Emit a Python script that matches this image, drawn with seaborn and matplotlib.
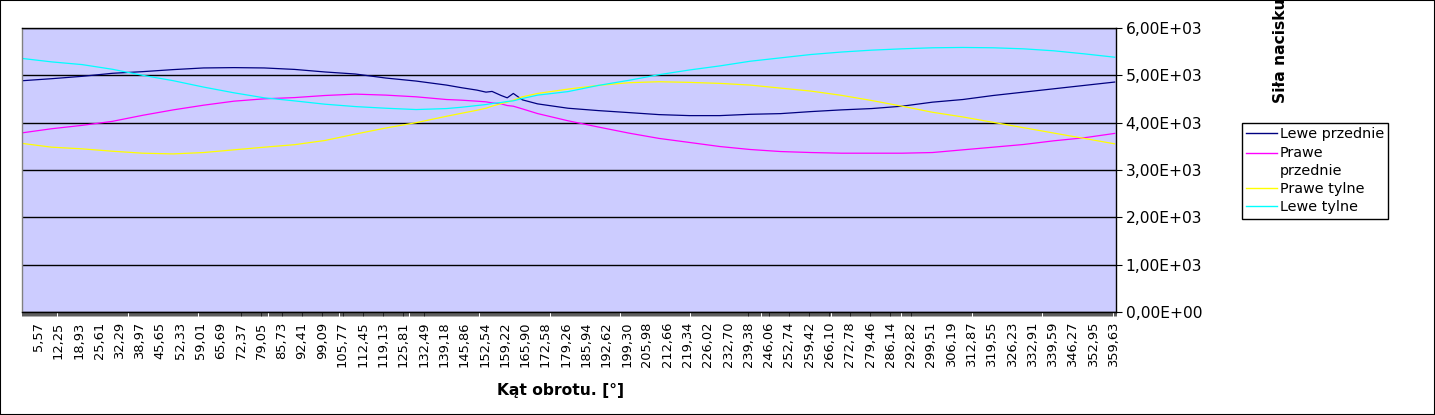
import numpy as np
import pandas as pd
import matplotlib
matplotlib.use("Agg")
import matplotlib.pyplot as plt
import seaborn as sns
from matplotlib.patches import Rectangle
from matplotlib.lines import Line2D
from matplotlib.ticker import FuncFormatter
from matplotlib.legend_handler import HandlerLine2D

# ---------------- data ----------------
angles = [0.5, 10, 20, 30, 40, 50, 60, 70, 80, 90, 100, 110, 120, 130, 140,
          145, 150, 153, 155, 158, 160, 162, 165, 170, 180, 190, 200, 210,
          220, 230, 240, 250, 260, 270, 280, 290, 300, 310, 320, 330, 340,
          350, 360]

lewe_przednie = [4887, 4929, 4979, 5043, 5078, 5121, 5156, 5163, 5156, 5125,
                 5071, 5028, 4943, 4879, 4794, 4738, 4688, 4645, 4660, 4574,
                 4525, 4617, 4482, 4397, 4305, 4255, 4213, 4170, 4149, 4149,
                 4177, 4191, 4234, 4270, 4298, 4348, 4433, 4489, 4574, 4645,
                 4716, 4787, 4858]

prawe_przednie = [3787, 3872, 3943, 4028, 4156, 4270, 4369, 4454, 4504, 4530,
                  4574, 4603, 4582, 4546, 4489, 4475, 4454, 4440, 4418, 4397,
                  4362, 4348, 4291, 4192, 4040, 3908, 3780, 3667, 3582, 3496,
                  3433, 3390, 3369, 3355, 3355, 3355, 3369, 3426, 3482, 3539,
                  3617, 3681, 3773]

prawe_tylne = [3560, 3482, 3447, 3397, 3355, 3340, 3369, 3426, 3482, 3535,
               3624, 3759, 3887, 4000, 4135, 4199, 4262, 4305, 4348, 4404,
               4433, 4475, 4546, 4617, 4709, 4787, 4844, 4865, 4851, 4830,
               4794, 4730, 4667, 4578, 4468, 4348, 4220, 4121, 4007, 3894,
               3780, 3667, 3553]

lewe_tylne = [5355, 5284, 5227, 5128, 5000, 4887, 4752, 4631, 4525, 4460,
              4390, 4340, 4305, 4277, 4298, 4326, 4362, 4383, 4404, 4426,
              4447, 4461, 4511, 4582, 4656, 4787, 4894, 5014, 5113, 5199,
              5298, 5369, 5440, 5492, 5532, 5560, 5582, 5589, 5582, 5560,
              5518, 5454, 5383]

series_names = ["Lewe przednie", "Prawe\nprzednie", "Prawe tylne", "Lewe tylne"]
series_colors = ["#000080", "#ff00ff", "#ffff00", "#00ffff"]

x_tick_labels = ["5,57", "12,25", "18,93", "25,61", "32,29", "38,97", "45,65",
                 "52,33", "59,01", "65,69", "72,37", "79,05", "85,73", "92,41",
                 "99,09", "105,77", "112,45", "119,13", "125,81", "132,49",
                 "139,18", "145,86", "152,54", "159,22", "165,90", "172,58",
                 "179,26", "185,94", "192,62", "199,30", "205,98", "212,66",
                 "219,34", "226,02", "232,70", "239,38", "246,06", "252,74",
                 "259,42", "266,10", "272,78", "279,46", "286,14", "292,82",
                 "299,51", "306,19", "312,87", "319,55", "326,23", "332,91",
                 "339,59", "346,27", "352,95", "359,63"]
y_ticks = [0, 1000, 2000, 3000, 4000, 5000, 6000]

# ---------------- table for seaborn ----------------
frames = []
for name, vals in zip(series_names,
                      [lewe_przednie, prawe_przednie, prawe_tylne, lewe_tylne]):
    frames.append(pd.DataFrame({"kat": angles, "sila": vals, "seria": name}))
df = pd.concat(frames, ignore_index=True)

# ---------------- figure ----------------
W, H = 1435, 415
fig = plt.figure(figsize=(W / 100, H / 100), dpi=100)
fig.patch.set_facecolor("white")

L, R, T, B = 22, 1116, 28, 312
ax = fig.add_axes([L / W, 1 - B / H, (R - L) / W, (B - T) / H])
ax.set_facecolor("#ccccff")

sns.lineplot(data=df, x="kat", y="sila", hue="seria",
             hue_order=series_names, palette=series_colors,
             estimator=None, sort=False, linewidth=0.9, legend=False, ax=ax)

ax.set_xlim(0.45, 360.45)
ax.set_ylim(0, 6000)

# y axis on the right
ax.yaxis.tick_right()
ax.set_yticks(y_ticks)
ax.yaxis.set_major_formatter(
    FuncFormatter(lambda v, p: f"{v:.2E}".replace(".", ",")))
ax.tick_params(axis="y", which="both", left=False, right=True, direction="out",
               length=4, width=0.8, pad=3, labelsize=11.2, colors="black")

# x axis: category ticks
x_pos = [float(s.replace(",", ".")) for s in x_tick_labels]
ax.set_xticks(x_pos)
ax.set_xticklabels(x_tick_labels, rotation=90, fontsize=9.4)
step = 0.33402
ax.set_xticks(np.arange(x_pos[0] - 16 * step, 360.45, step), minor=True)
ax.tick_params(axis="x", which="both", direction="out", length=3, width=0.45,
               pad=4, colors="black")

# grid
ax.grid(axis="y", color="black", linewidth=1.0)
ax.grid(axis="x", visible=False)
ax.set_axisbelow(True)

for side in ["top", "right", "bottom"]:
    ax.spines[side].set_color("black")
    ax.spines[side].set_linewidth(1.0)
ax.spines["left"].set_color("#808080")
ax.spines["left"].set_linewidth(1.0)

# axis titles
ax.set_xlabel("Kąt obrotu. [°]", fontsize=11.2, fontweight="bold")
ax.xaxis.set_label_coords((561 - L) / (R - L), (B - 390) / (B - T))
ax.xaxis.label.set_va("center")

ax.yaxis.set_label_position("right")
ax.set_ylabel("Siła nacisku. [N]", fontsize=11.2, fontweight="bold",
              rotation=90)
ax.yaxis.set_label_coords((1281 - L) / (R - L), (B - 103) / (B - T))
ax.yaxis.label.set_rotation_mode("anchor")
ax.yaxis.label.set_ha("left")
ax.yaxis.label.set_va("center")


# legend: handle of the wrapped entry sits at its first text line
class FirstLineHandler(HandlerLine2D):
    def __init__(self, raise_pt, **kw):
        super().__init__(**kw)
        self.raise_pt = raise_pt

    def create_artists(self, legend, orig_handle, xdescent, ydescent, width,
                       height, fontsize, trans):
        return super().create_artists(legend, orig_handle, xdescent,
                                      ydescent - 2 * self.raise_pt, width,
                                      height, fontsize, trans)


handles = [Line2D([0], [0], color=c, lw=1.0) for c in series_colors]
leg = fig.legend(handles, series_names, loc="upper left",
                 bbox_to_anchor=(1242 / W, 1 - 123 / H),
                 bbox_transform=fig.transFigure, borderaxespad=0,
                 frameon=True, fancybox=False, edgecolor="black",
                 framealpha=1, fontsize=10.4, handlelength=2.1,
                 handletextpad=0.2, borderpad=0.3, labelspacing=0.3,
                 handler_map={handles[1]: FirstLineHandler(6.5)})
leg.get_frame().set_linewidth(1.0)
for t in leg.get_texts():
    t.set_linespacing(1.35)

# outer border
fig.patches.append(Rectangle((0, 0), 1, 1, transform=fig.transFigure,
                             fill=False, edgecolor="black", linewidth=1.5))

fig.savefig("out.png", dpi=100)
